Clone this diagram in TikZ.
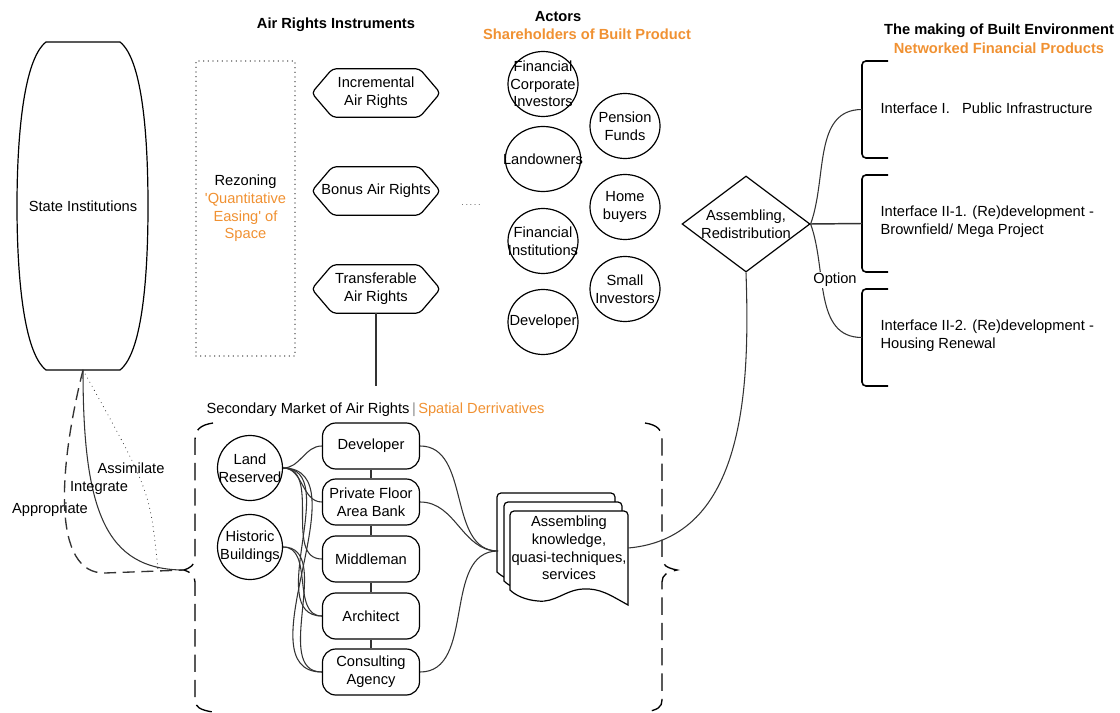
\documentclass[tikz,border=0pt]{standalone}
\usepackage{fontspec}
\setmainfont{Liberation Sans}
\usetikzlibrary{shapes.geometric}
\definecolor{orangeC}{RGB}{240,145,50}

\begin{document}
\begin{tikzpicture}[x=0.75pt, y=-0.75pt,
  every node/.style={font=\fontsize{11}{13.3}\selectfont, align=center, inner sep=1pt},
  heading/.style={font=\fontsize{11}{13.3}\selectfont\bfseries},
  hexbox/.style={minimum width=96pt, minimum height=36pt},
  actor/.style={ellipse, draw, line width=0.9pt, minimum width=52.5pt, minimum height=48.75pt, inner sep=-10pt},
  asset/.style={circle, draw, line width=0.9pt, minimum size=48.75pt, inner sep=-4pt},
  agent/.style={rectangle, draw, rounded corners=10pt, line width=0.9pt, minimum width=72.75pt, minimum height=34.5pt, inner sep=0pt},
  outline/.style={line width=0.9pt},
  link/.style={draw=black!80, line width=0.8pt},
  sparsedots/.style={line cap=round, dash pattern=on 0pt off 3.5pt},
  bracedash/.style={line width=1pt, dash pattern=on 13pt off 6pt}
]
  \useasboundingbox (0,0) rectangle (1120,713);

  % State institutions (barrel)
  \node (state) at (83,206) {State Institutions};
  \coordinate (stateS) at (83,370);
  \draw[outline] (46,42) -- (120,42) .. controls (143,60) and (148,140) .. (148,206)
    .. controls (148,272) and (143,352) .. (120,370) -- (46,370)
    .. controls (23,352) and (17,272) .. (17,206) .. controls (17,140) and (23,60) .. (46,42) -- cycle;

  % Air rights instruments
  \node[heading] (airtitle) at (336,25) {Air Rights Instruments};
  \node[draw, sparsedots, line width=0.9pt, minimum width=74.25pt, minimum height=221.25pt] (rezone) at (245.5,208.5)
    {Rezoning\\{\color{orangeC}\textquotesingle Quantitative}\\{\color{orangeC}Easing\textquotesingle\ of}\\{\color{orangeC}Space}};
  \node[hexbox] (iar) at (376,93) {Incremental\\Air Rights};
  \node[hexbox] (bar) at (376,191) {Bonus Air Rights};
  \node[hexbox] (tar) at (376,289) {Transferable\\Air Rights};
  \foreach \h in {iar,bar,tar}
    \draw[outline, rounded corners=3pt] (\h.west) -- ([xshift=15.5pt]\h.north west) -- ([xshift=-15.5pt]\h.north east)
      -- (\h.east) -- ([xshift=-15.5pt]\h.south east) -- ([xshift=15.5pt]\h.south west) -- cycle;
  \coordinate (tarEnd) at (376,386);
  \draw[link] (tar.south) -- (tarEnd);
  \node[text=black!60] (more) at (471,205) {\fontsize{7}{8}\selectfont .\,.\,.\,.\,.};

  % Actors
  \node[heading] (actitle) at (558,17) {Actors};
  \node[heading, text=orangeC] (shtitle) at (587,34) {Shareholders of Built Product};
  \node[actor] (fci) at (543,84) {Financial\\Corporate\\Investors};
  \node[actor] (lown) at (543,159) {Landowners};
  \node[actor] (finst) at (543,241) {Financial\\Institutions};
  \node[actor] (devA) at (543,322) {Developer};
  \node[actor] (pens) at (625,126) {Pension\\Funds};
  \node[actor] (home) at (625,207) {Home\\buyers};
  \node[actor] (small) at (625,289) {Small\\Investors};

  % Built environment
  \node[heading] (bettitle) at (999,31) {The making of Built Environment};
  \node[heading, text=orangeC] (nftitle) at (999,48) {Networked Financial Products};
  \node[diamond, draw, line width=0.9pt, aspect=1.33, inner sep=0pt, minimum width=96pt, minimum height=72pt] (assem) at (746,224)
    {Assembling,\\Redistribution};
  \foreach \yt/\yb/\n in {61/158/br1, 175/272/br2, 289/386/br3} {
    \draw[line width=1.2pt, rounded corners=3pt] (888,\yt) -- (862,\yt) -- (862,\yb) -- (888,\yb);
    \coordinate (\n) at (862,{(\yt+\yb)/2});
  }
  \node[anchor=west, align=left] (if1) at (879,108) {Interface I.\ \ \ Public Infrastructure};
  \node[anchor=west, align=left] (if2) at (879,222) {Interface II-1. (Re)development -\\Brownfield/ Mega Project};
  \node[anchor=west, align=left] (if3) at (879,336) {Interface II-2. (Re)development -\\Housing Renewal};
  \draw[link] (assem.east) to[out=70,in=180] (br1);
  \draw[link, line width=1.1pt] (assem.east) -- (br2);
  \draw[link] (assem.east) to[out=-70,in=180] (br3);
  \node[fill=white, inner sep=1pt] (opt) at (835,280) {Option};

  % Secondary market
  \node[anchor=west] (smtitle) at (205,410)
    {Secondary Market of Air Rights{\color{black!45}\,|\,}{\color{orangeC}Spatial Derrivatives}};
  \coordinate (braceW) at (184,570);
  \coordinate (braceE) at (677,570);
  \draw[bracedash] (213,423) .. controls (200,425) and (195,430) .. (195,440) -- (195,558)
    .. controls (195,565) and (190,568) .. (braceW) .. controls (190,572) and (195,575) .. (195,582)
    -- (195,700) .. controls (195,707) and (200,710) .. (213,712);
  \draw[bracedash] (645,423) .. controls (658,425) and (662,430) .. (662,440) -- (662,558)
    .. controls (662,565) and (667,568) .. (braceE) .. controls (667,572) and (662,575) .. (662,582)
    -- (662,700) .. controls (662,707) and (658,710) .. (645,712);

  \node[asset] (land) at (250,468) {Land\\Reserved};
  \node[asset] (hist) at (250,547) {Historic\\Buildings};
  \node[agent] (dev) at (371,446) {Developer};
  \node[agent] (pfab) at (371,502) {Private Floor\\Area Bank};
  \node[agent] (mid) at (371,559) {Middleman};
  \node[agent] (arch) at (371,616) {Architect};
  \node[agent] (cons) at (371,672) {Consulting\\Agency};
  \draw[link] (dev.south) -- (pfab.north);
  \draw[link] (pfab.south) -- (mid.north);
  \draw[link] (mid.south) -- (arch.north);
  \draw[link] (arch.south) -- (cons.north);
  \foreach \t in {dev,pfab,mid,arch,cons}
    \draw[link] (land.east) to[out=0,in=180] (\t.west);
  \foreach \t in {arch,cons}
    \draw[link] (hist.east) to[out=0,in=180] (\t.west);

  % Assembling documents
  \foreach \dx/\dy in {-13/-18, -6/-9, 0/0}
    \draw[outline, fill=white, shift={(\dx,\dy)}] (510,590) [rounded corners=3pt] -- (510,511) -- (628,511)
      [sharp corners] -- (628,605) .. controls (610,595) and (600,588) .. (583,589)
      .. controls (565,590) and (555,603) .. (538,601) .. controls (525,600) and (515,595) .. (510,590) -- cycle;
  \node[minimum width=88.5pt] (docs) at (569,548) {Assembling\\knowledge,\\quasi-techniques,\\services};
  \coordinate (docsIn) at (498,551);
  \foreach \s in {dev,pfab,cons}
    \draw[link] (\s.east) to[out=0,in=180] (docsIn);
  \draw[link] (docs.east) to[out=5,in=-88] (assem.south);

  % State links
  \coordinate (assimEnd) at (158,570);
  \draw[link] (stateS) .. controls (83,510) and (105,570) .. (braceW);
  \draw[link, dash pattern=on 9pt off 5pt, line width=1pt] (stateS) .. controls (58,470) and (52,574) .. (105,573) -- (braceW);
  \draw[link, sparsedots] (stateS) .. controls (150,490) .. (assimEnd);
  \node (assim) at (131,468) {Assimilate};
  \node (integ) at (99,488) {Integrate};
  \node (approp) at (50,510) {Appropriate};

\end{tikzpicture}
\end{document}
